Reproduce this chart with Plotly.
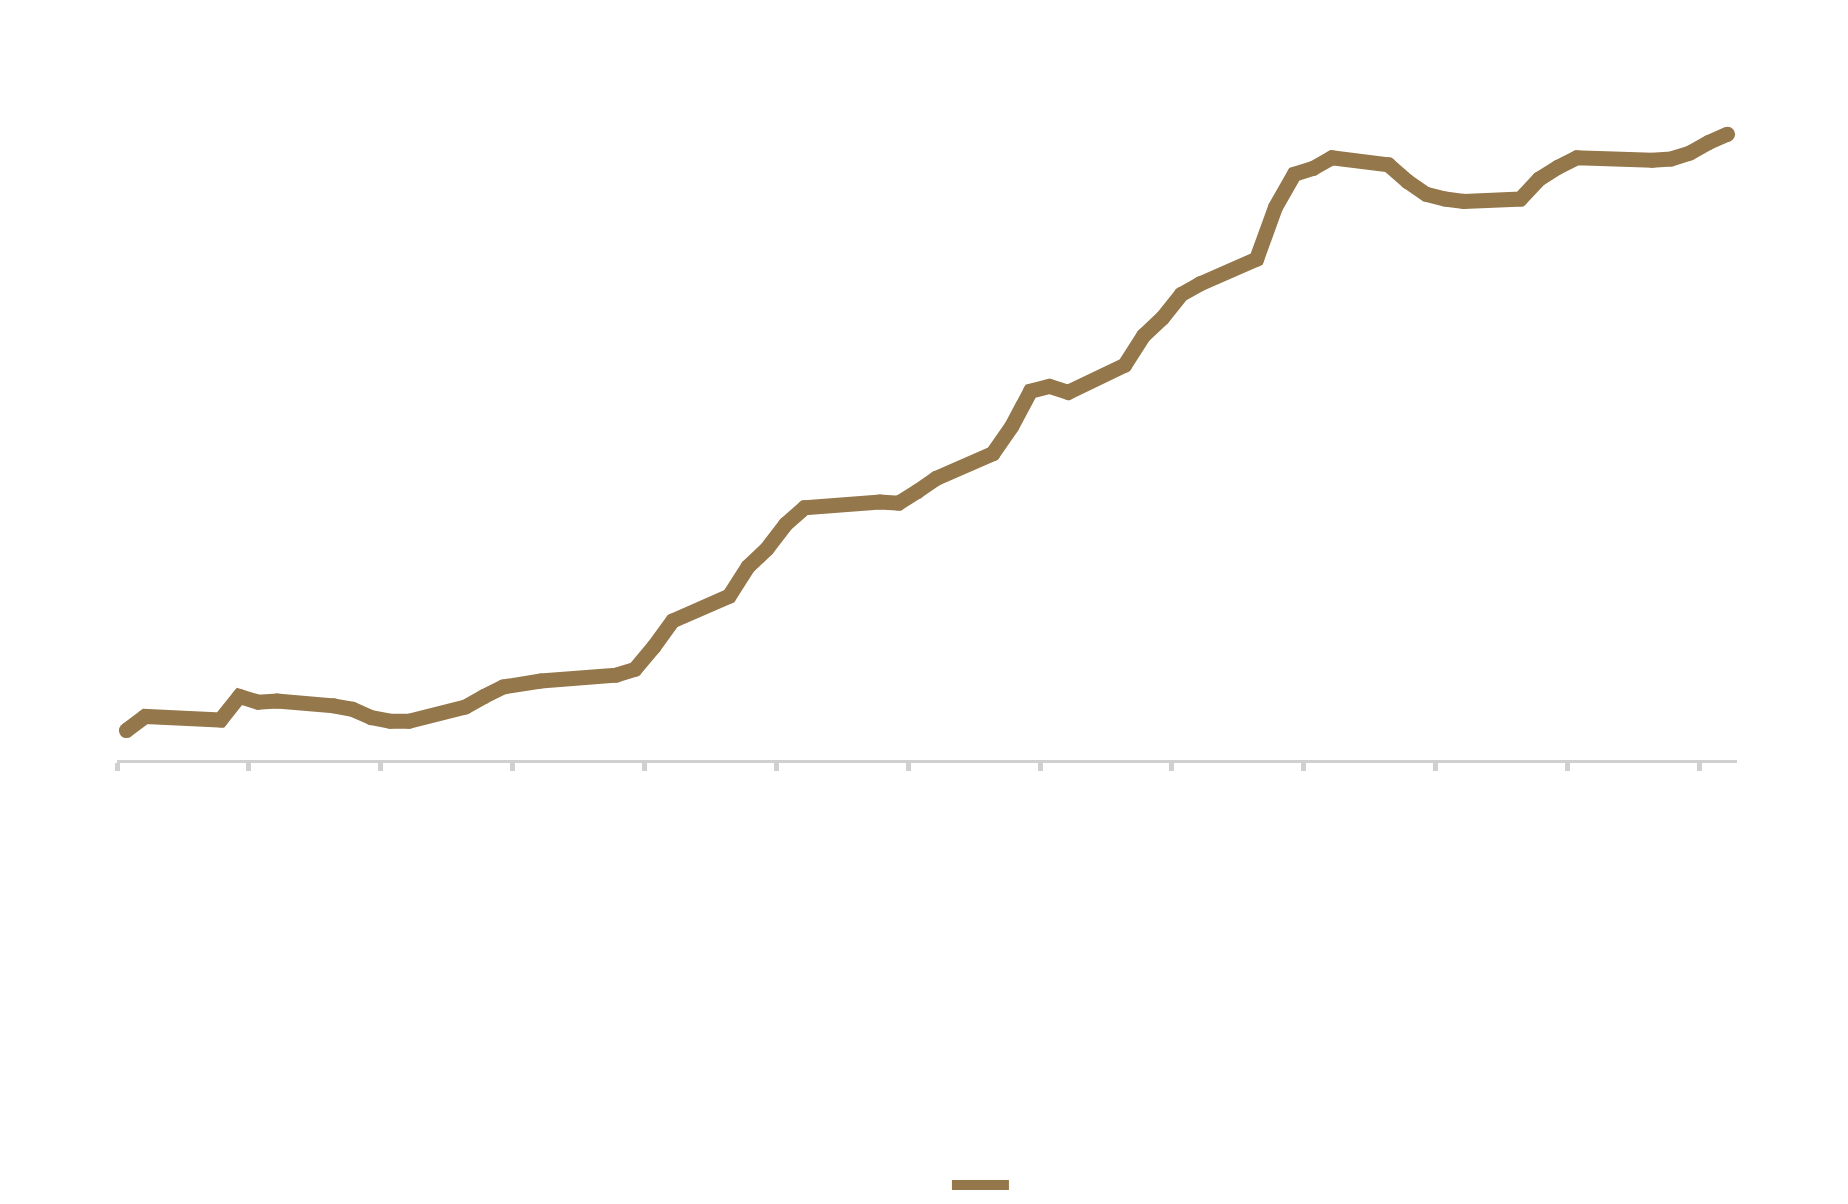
import plotly.graph_objects as go

# Data (dates of each visible vertex, values in chart units)
dates = [
    "2023-01-05", "2023-01-06", "2023-01-10", "2023-01-11", "2023-01-12", "2023-01-13",
    "2023-01-16", "2023-01-17", "2023-01-18", "2023-01-19", "2023-01-20",
    "2023-01-23", "2023-01-24", "2023-01-25", "2023-01-27",
    "2023-01-31", "2023-02-01", "2023-02-02", "2023-02-03",
    "2023-02-06", "2023-02-07", "2023-02-08", "2023-02-09", "2023-02-10",
    "2023-02-14", "2023-02-15", "2023-02-16", "2023-02-17",
    "2023-02-20", "2023-02-21", "2023-02-22", "2023-02-23", "2023-02-24",
    "2023-02-27", "2023-02-28", "2023-03-01", "2023-03-02", "2023-03-03",
    "2023-03-06", "2023-03-07", "2023-03-08", "2023-03-09", "2023-03-10",
    "2023-03-13", "2023-03-14", "2023-03-15", "2023-03-16", "2023-03-17",
    "2023-03-20", "2023-03-21", "2023-03-22", "2023-03-23",
    "2023-03-27", "2023-03-28", "2023-03-29", "2023-03-30", "2023-03-31",
]
values = [
    4.46, 6.61, 6.07, 9.65, 8.76, 8.94,
    8.22, 7.69, 6.43, 5.89, 5.89,
    8.04, 9.65, 11.08, 11.98,
    12.87, 13.76, 17.16, 21.10,
    24.85, 29.32, 32.01, 35.76, 38.27,
    39.16, 38.98, 40.77, 42.74,
    46.49, 50.60, 55.97, 56.69, 55.79,
    59.91, 64.38, 67.06, 70.64, 72.25,
    76.00, 83.87, 88.88, 89.77, 91.38,
    90.31, 87.81, 85.84, 85.12, 84.77,
    85.12, 88.16, 89.95, 91.38,
    91.02, 91.20, 92.10, 93.71, 94.96,
]
series_name = ""

x_range = ["2023-01-04 12:00", "2023-03-31 12:00"]
y_range = [0, 100]

LINE_COLOR = "#94774a"
AXIS_COLOR = "#d0d0d0"
LINE_W = 15

fig = go.Figure()
# line (shown in legend as a plain bar)
fig.add_trace(go.Scatter(
    x=dates, y=values, name=series_name, mode="lines",
    line=dict(color=LINE_COLOR, width=LINE_W, simplify=False),
    showlegend=True,
    hoverinfo="x+y",
))
# round joins / end caps (same diameter as the line width)
fig.add_trace(go.Scatter(
    x=dates, y=values, name=series_name, mode="markers",
    marker=dict(color=LINE_COLOR, size=LINE_W, line=dict(width=0)),
    showlegend=False,
    hoverinfo="skip",
))

fig.update_layout(
    width=1848, height=1204,
    paper_bgcolor="white", plot_bgcolor="white",
    margin=dict(l=109, r=119, t=93, b=452),
    showlegend=True,
    legend=dict(orientation="h", x=0.5123, xanchor="left", y=-0.645, yanchor="middle",
                itemwidth=57, font=dict(size=12)),
    xaxis=dict(
        type="date", range=x_range,
        tick0=x_range[0], dtick=7 * 86400000,
        showgrid=False, zeroline=False,
        showline=True, linecolor=AXIS_COLOR, linewidth=3,
        ticks="outside", ticklen=8, tickwidth=5, tickcolor=AXIS_COLOR,
        showticklabels=False,
    ),
    yaxis=dict(range=y_range, visible=False, showgrid=False, zeroline=False),
)

fig.write_html("out.html")
